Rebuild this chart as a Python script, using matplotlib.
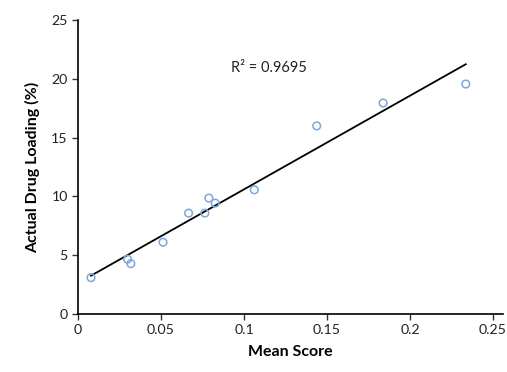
import numpy as np
import matplotlib
matplotlib.use("Agg")
import matplotlib.pyplot as plt

plt.rcParams['font.family'] = ['Lato', 'DejaVu Sans']

mean_score = [0.0078, 0.0298, 0.0318, 0.0512, 0.0666, 0.0764, 0.0788, 0.0826, 0.1062, 0.1438, 0.1838, 0.2336]
drug_loading = [3.09, 4.66, 4.28, 6.10, 8.58, 8.58, 9.86, 9.43, 10.56, 16.0, 17.95, 19.56]
x_ticks = [0, 0.05, 0.1, 0.15, 0.2, 0.25]
x_tick_labels = ['0', '0.05', '0.1', '0.15', '0.2', '0.25']
y_ticks = [0, 5, 10, 15, 20, 25]
r2_label = 'R² = 0.9695'

fig = plt.figure(figsize=(5.07, 3.72), dpi=100)
ax = fig.add_axes([0.154, 0.156, 0.838, 0.79])

ax.scatter(mean_score, drug_loading, s=30, facecolors='none', edgecolors='#7fa7d9', linewidths=1.1, zorder=3)

slope, intercept = np.polyfit(mean_score, drug_loading, 1)
xs = np.array([min(mean_score), max(mean_score)])
ax.plot(xs, slope * xs + intercept, color='black', lw=1.3, zorder=2)

ax.text(0.092, 20.9, r2_label, fontsize=10.5, va='center', ha='left', color='#222222')

ax.set_xlim(0, 0.256)
ax.set_ylim(0, 25)
ax.set_xticks(x_ticks)
ax.set_xticklabels(x_tick_labels)
ax.set_yticks(y_ticks)
for s in ['top', 'right']:
    ax.spines[s].set_visible(False)
for s in ['left', 'bottom']:
    ax.spines[s].set_linewidth(1.2)
ax.tick_params(axis='both', labelsize=10.2, length=4, width=1, colors='#333333', labelcolor='#222222')
ax.set_xlabel('Mean Score', fontsize=11.5, fontweight='bold', labelpad=6)
ax.set_ylabel('Actual Drug Loading (%)', fontsize=11.5, fontweight='bold', labelpad=8)

fig.savefig('out.png', dpi=100)
